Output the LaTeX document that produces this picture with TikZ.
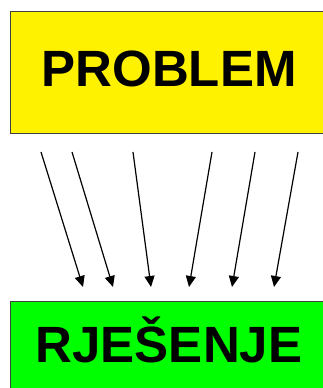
\documentclass[tikz,border=0pt]{standalone}
\usepackage{fontspec}
\setmainfont{Liberation Sans}
\usetikzlibrary{arrows.meta}

\tikzset{
  box/.style={draw=black!75, line width=0.8pt, outer sep=0pt, inner sep=0pt,
              minimum width=400, minimum height=122, anchor=north west},
  title/.style={font=\fontsize{51}{60}\selectfont\bfseries, anchor=base, inner sep=0pt},
  arr/.style={line width=1.2pt, -{Triangle[length=11pt,width=10pt]}}
}

\begin{document}
\begin{tikzpicture}[x=1pt, y=1pt]

        % 1. 畫布大小
        \useasboundingbox (0,0) rectangle (322,388);

        % 2. 上方黃色框 PROBLEM
        \node[box, fill=yellow] (problem) at (10.5,377) {};
        \node[title] (problemtxt) at (169,301) {PROBLEM};

        % 3. 下方綠色框 RJEŠENJE
        \node[box, fill=green, minimum height=110] (rjesenje) at (10.5,87) {};
        \node[title] (rjesenjetxt) at (169,25) {RJEŠENJE};

        % 4. 六條箭頭 (起點/終點相對於左邊界的偏移)
        \foreach \a/\b in {30.5/72.5, 61.5/102.5, 122.5/140.5, 201.5/178.5, 244.5/221.5, 287.5/263.5} {
            \draw[arr] ([shift={(\a,-19)}]problem.south west) -- ([shift={(\b,14)}]rjesenje.north west);
        }

    \end{tikzpicture}
\end{document}
